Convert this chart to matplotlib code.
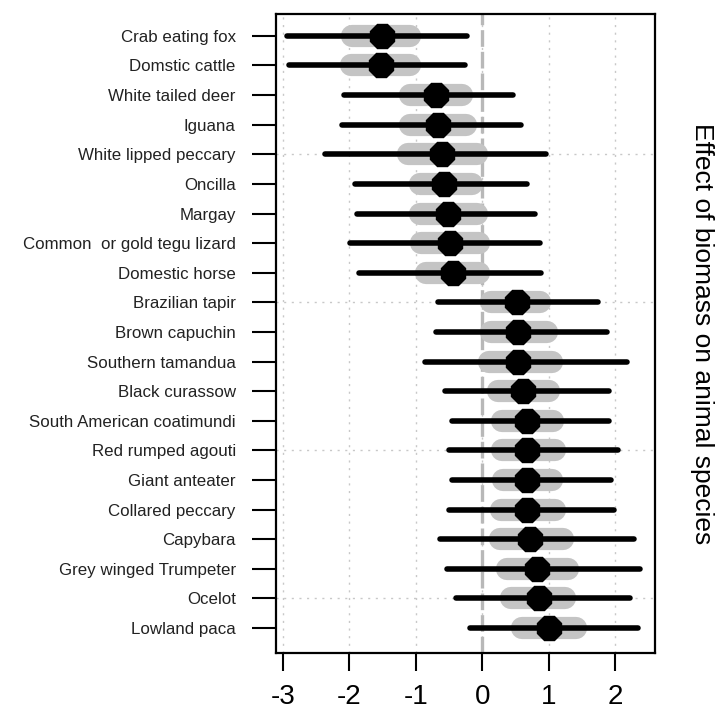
import matplotlib.pyplot as plt
import numpy as np

plt.rcParams['font.family'] = ['Liberation Sans', 'DejaVu Sans']

# species, top to bottom
species = ['Crab eating fox', 'Domstic cattle', 'White tailed deer', 'Iguana',
           'White lipped peccary', 'Oncilla', 'Margay', 'Common  or gold tegu lizard',
           'Domestic horse', 'Brazilian tapir', 'Brown capuchin', 'Southern tamandua',
           'Black curassow', 'South American coatimundi', 'Red rumped agouti',
           'Giant anteater', 'Collared peccary', 'Capybara', 'Grey winged Trumpeter',
           'Ocelot', 'Lowland paca']

# posterior means
mean = [-1.51, -1.52, -0.70, -0.67, -0.60, -0.57, -0.51, -0.49, -0.44, 0.52, 0.54,
        0.54, 0.61, 0.67, 0.68, 0.68, 0.68, 0.72, 0.82, 0.86, 1.01]
# outer interval (black)
lo_out = [-2.93, -2.90, -2.08, -2.11, -2.36, -1.91, -1.88, -1.99, -1.85, -0.66, -0.70,
          -0.86, -0.56, -0.46, -0.50, -0.46, -0.50, -0.63, -0.53, -0.39, -0.19]
hi_out = [-0.23, -0.26, 0.46, 0.59, 0.96, 0.68, 0.79, 0.87, 0.89, 1.74, 1.88,
          2.18, 1.91, 1.91, 2.04, 1.94, 1.98, 2.29, 2.38, 2.22, 2.34]
# inner interval (grey)
lo_in = [-1.96, -1.97, -1.08, -1.08, -1.12, -0.94, -0.94, -0.92, -0.84, 0.13, 0.13,
         0.11, 0.24, 0.30, 0.30, 0.32, 0.29, 0.27, 0.37, 0.44, 0.60]
hi_in = [-1.08, -1.08, -0.31, -0.24, -0.07, -0.15, -0.07, -0.04, -0.04, 0.87, 0.97,
         1.05, 1.00, 1.07, 1.10, 1.05, 1.10, 1.21, 1.29, 1.24, 1.41]

xticks = [-3, -2, -1, 0, 1, 2]

fig = plt.figure(figsize=(7.17, 7.17), dpi=100)
ax = fig.add_axes([0.385, 0.089, 0.5285, 0.8915])

y = np.arange(1, len(species) + 1)

# dotted grid like R's grid()
for gx in xticks:
    ax.axvline(gx, color='#c8c8c8', lw=1.0, ls=(0, (1.5, 4)), zorder=0)
for gy in [5, 10, 15, 20]:
    ax.axhline(gy, color='#c8c8c8', lw=1.0, ls=(0, (1.5, 4)), zorder=0)

ax.axvline(0, color='#b8b8b8', lw=2.4, ls=(0, (5, 1.5)), zorder=1)

for i in range(len(species)):
    ax.plot([lo_in[i], hi_in[i]], [y[i], y[i]], color='#c4c4c4', lw=16,
            solid_capstyle='round', zorder=2)
    ax.plot([lo_out[i], hi_out[i]], [y[i], y[i]], color='black', lw=4,
            solid_capstyle='round', zorder=3)
ax.plot(mean, y, ls='none', marker='8', ms=18, color='black', zorder=4)

ax.set_xlim(-3.1, 2.6)
ax.set_ylim(21.85, 0.26)
ax.set_yticks(y)
ax.set_yticklabels(species, fontsize=12.2, color='#222222')
ax.set_xticks(xticks)
ax.set_xticklabels([str(v) for v in xticks], fontsize=20)
ax.tick_params(axis='y', direction='out', length=17, width=1.5, pad=12)
ax.tick_params(axis='x', direction='out', length=13, width=1.5, pad=9)
for s in ax.spines.values():
    s.set_linewidth(1.6)

fig.text(702 / 717, 1 - 334 / 717, 'Effect of biomass on animal species',
         rotation=-90, fontsize=19, ha='center', va='center')

fig.savefig('out.png', dpi=100)
